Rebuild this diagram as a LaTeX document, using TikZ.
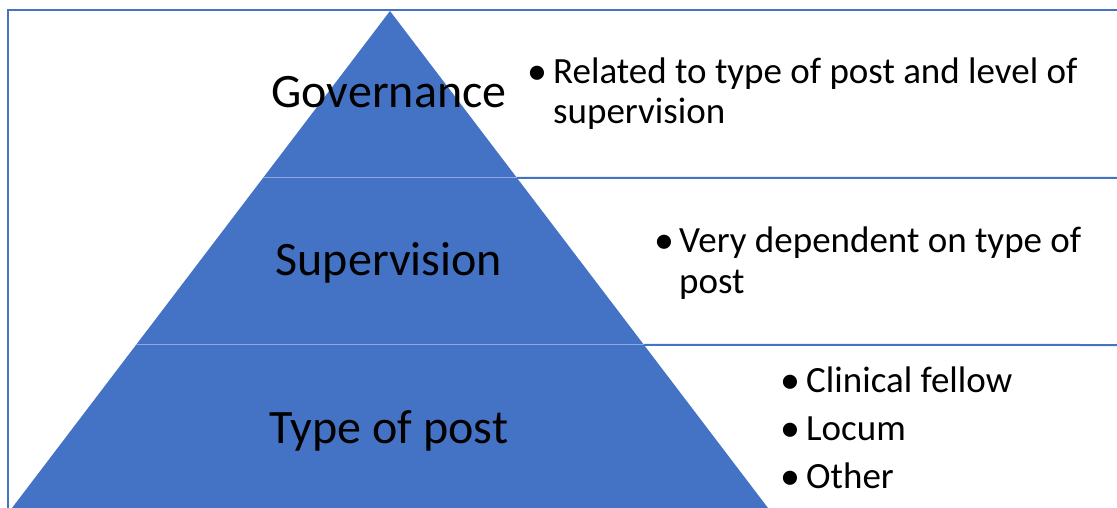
\documentclass[tikz,border=0pt]{standalone}
\usepackage{fontspec}
\setmainfont{Carlito}
\usetikzlibrary{calc}
\definecolor{pyrblue}{HTML}{4472C4}
\definecolor{pyrline}{HTML}{8FAADC}
\begin{document}
\begin{tikzpicture}[x=1pt,y=-1pt,
  outline/.style={draw=pyrblue,line width=2pt},
  divider/.style={draw=pyrline,line width=1pt},
  level/.style={anchor=base,inner sep=0pt,font=\fontsize{48}{56}\selectfont},
  item/.style={anchor=base west,inner sep=0pt,font=\fontsize{37}{42}\selectfont},
  dot/.style={anchor=base west,inner sep=0pt,font=\fontsize{40}{42}\selectfont}]
\useasboundingbox (0,0) rectangle (1117,508);
\begin{scope}
\clip (0,0) rectangle (1117,508);
% frame: top edge and left edge
\coordinate (tl) at (8,10);
\coordinate (tr) at (1120,10);
\coordinate (bl0) at (8,510);
\draw[outline] (bl0) -- (tl) -- (tr);
% pyramid corners
\coordinate (apex) at (390,11);
\coordinate (bl) at (12,508);
\coordinate (br) at (768,508);
% level boundaries on both sides of the pyramid
\coordinate (l1) at ($(apex)!0.336!(bl)$);
\coordinate (r1) at ($(apex)!0.336!(br)$);
\coordinate (l2) at ($(apex)!0.672!(bl)$);
\coordinate (r2) at ($(apex)!0.672!(br)$);
\coordinate (e1) at (1120,178);
\coordinate (e2) at (1120,345);
\draw[outline] (r1) -- (e1);
\draw[outline] (r2) -- (e2);
% pyramid
\fill[pyrblue] (apex) -- (bl) -- (br) -- cycle;
\draw[divider] (l1) -- (r1);
\draw[divider] (l2) -- (r2);
\end{scope}
% level labels
\node[level] (gov) at (389,108) {Governance};
\node[level] (sup) at (389,275) {Supervision};
\node[level] (top) at (389,443) {Type of post};
% governance notes
\node[dot] (b1) at (527,85) {•};
\node[item] (t1a) at (553,84) {Related to type of post and level of};
\node[item] (t1b) at (553,124) {supervision};
% supervision notes
\node[dot] (b2) at (654,253) {•};
\node[item] (t2a) at (679,252) {Very dependent on type of};
\node[item] (t2b) at (679,293) {post};
% type of post notes
\node[dot] (b3a) at (780,393) {•};
\node[item] (t3a) at (806,392) {Clinical fellow};
\node[dot] (b3b) at (780,441) {•};
\node[item] (t3b) at (806,440) {Locum};
\node[dot] (b3c) at (780,489) {•};
\node[item] (t3c) at (806,488) {Other};
\end{tikzpicture}
\end{document}
